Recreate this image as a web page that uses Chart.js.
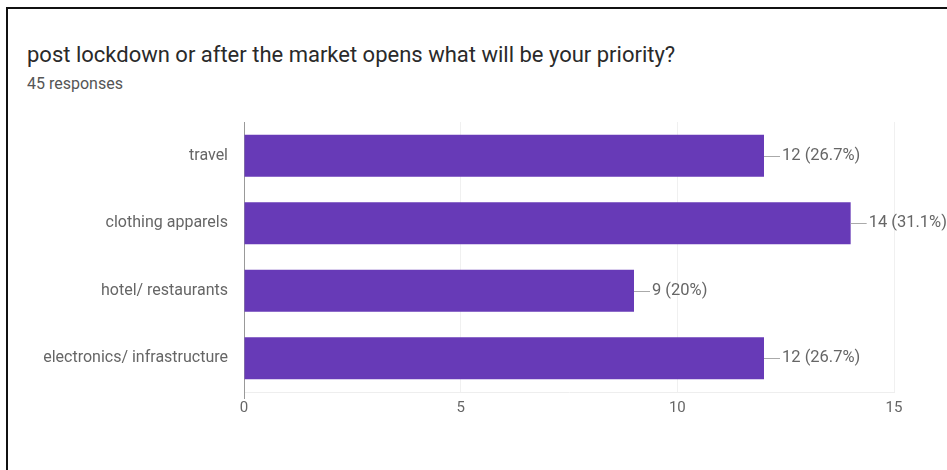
<!DOCTYPE html>
<html>
<head>
<meta charset="utf-8">
<script src="https://cdn.jsdelivr.net/npm/chart.js@4/dist/chart.umd.min.js"></script>
<style>
  html, body { margin: 0; padding: 0; background: #fff; }
  #wrap { position: relative; width: 947px; height: 470px; overflow: hidden; }
  #frame {
    position: absolute; left: 6px; top: 7px; right: -10px; bottom: -10px;
    border-top: 2.5px solid #111; border-left: 2.5px solid #111;
  }
  #titulo {
    position: absolute; left: 27px; top: 44px; margin: 0;
    font: 22px Roboto, sans-serif; line-height: 22px; color: #2a2a2a;
    white-space: nowrap;
  }
  #respostas {
    position: absolute; left: 27px; top: 76px;
    font: 16px Roboto, sans-serif; line-height: 16px; color: #555;
  }
  #grafico { position: absolute; left: 0; top: 0; }
</style>
</head>
<body>
<div id="wrap">
  <div id="frame"></div>
  <p id="titulo">post lockdown or after the market opens what will be your priority?</p>
  <div id="respostas">45 responses</div>
  <canvas id="grafico" width="947" height="470"></canvas>
</div>

<script>
/* ================= DADOS ================= */

const categorias = ["travel", "clothing apparels", "hotel/ restaurants", "electronics/ infrastructure"];
const respostas = [12, 14, 9, 12];
const totalRespostas = 45;
const ticksX = [0, 5, 10, 15];

/* ================= UTIL ================= */

function rotulo(valor) {
  const pct = Math.round((valor / totalRespostas) * 1000) / 10;
  return valor + " (" + pct + "%)";
}

// linha curta + texto na ponta de cada barra
const rotulosBarras = {
  id: "rotulosBarras",
  afterDatasetsDraw(chart) {
    const ctx = chart.ctx;
    const meta = chart.getDatasetMeta(0);
    ctx.save();
    ctx.font = "16.5px Roboto, sans-serif";
    ctx.textBaseline = "middle";
    ctx.textAlign = "left";
    meta.data.forEach((barra, i) => {
      ctx.strokeStyle = "#aaa";
      ctx.lineWidth = 1;
      ctx.beginPath();
      ctx.moveTo(barra.x, Math.round(barra.y) + 0.5);
      ctx.lineTo(barra.x + 16, Math.round(barra.y) + 0.5);
      ctx.stroke();
      ctx.fillStyle = "#666";
      ctx.fillText(rotulo(respostas[i]), barra.x + 18, barra.y);
    });
    ctx.restore();
  }
};

/* ================= GRÁFICO ================= */

new Chart(document.getElementById("grafico"), {
  type: "bar",
  data: {
    labels: categorias,
    datasets: [{
      data: respostas,
      backgroundColor: "#673ab7",
      categoryPercentage: 1,
      barPercentage: 0.62
    }]
  },
  options: {
    indexAxis: "y",
    responsive: false,
    animation: false,
    layout: { padding: { top: 122, right: 53, bottom: 0, left: 0 } },
    plugins: { legend: { display: false }, tooltip: { enabled: false } },
    scales: {
      x: {
        min: 0,
        max: 15,
        afterBuildTicks: s => { s.ticks = ticksX.map(v => ({ value: v })); },
        afterFit: s => { s.height = 78; },
        grid: {
          color: "#f0f0f0",
          tickLength: 7,
          tickColor: c => (c.index === 0 ? "#999" : "rgba(0,0,0,0)")
        },
        border: { color: "#eee" },
        ticks: {
          padding: 0,
          color: "#666",
          font: { family: "Roboto", size: 15 }
        }
      },
      y: {
        afterFit: s => { s.width = 244; },
        grid: { display: false, drawTicks: false },
        border: { color: "#999" },
        ticks: {
          padding: 16,
          color: "#666",
          font: { family: "Roboto", size: 16 }
        }
      }
    }
  },
  plugins: [rotulosBarras]
});
</script>
</body>
</html>
